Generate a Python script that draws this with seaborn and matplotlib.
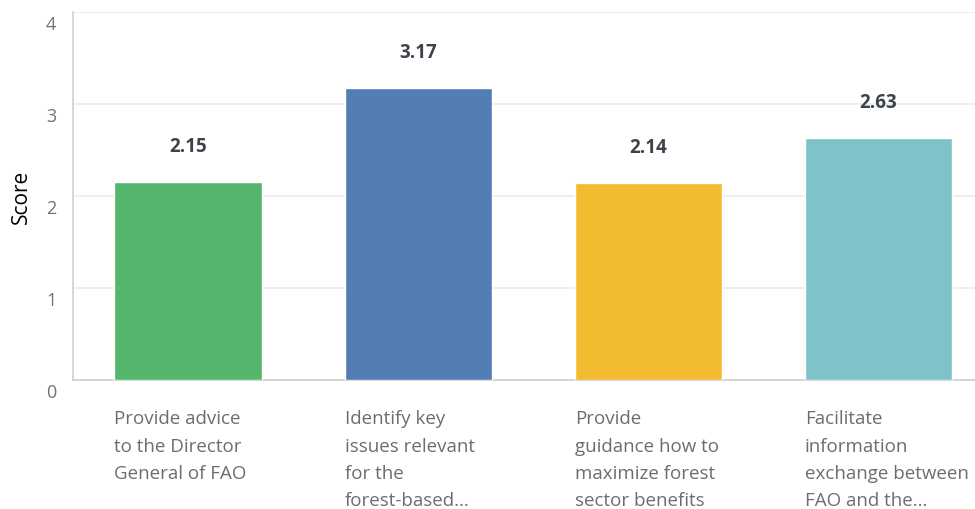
import matplotlib
matplotlib.use("Agg")
import matplotlib.pyplot as plt
import matplotlib.transforms as mtransforms
import seaborn as sns
import pandas as pd

categories = [
    "Provide advice\nto the Director\nGeneral of FAO",
    "Identify key\nissues relevant\nfor the\nforest-based...",
    "Provide\nguidance how to\nmaximize forest\nsector benefits",
    "Facilitate\ninformation\nexchange between\nFAO and the...",
]
scores = [2.15, 3.17, 2.14, 2.63]
value_labels = ["2.15", "3.17", "2.14", "2.63"]
colors = ["#56b56c", "#527eb3", "#f2bb30", "#7ec3c9"]
yticks = [0, 1, 2, 3, 4]

df = pd.DataFrame({"item": categories, "score": scores})

sns.set_theme(style="white")
plt.rcParams["font.family"] = ["Open Sans", "DejaVu Sans"]

fig = plt.figure(figsize=(9.75, 5.1), dpi=100)
ax = fig.add_axes([0.0749, 0.2529, 0.9251, 0.7216])

bar_w = 0.64
sns.barplot(data=df, x="item", y="score", hue="item", palette=colors,
            legend=False, width=bar_w, ax=ax, saturation=1, zorder=3)

ax.set_ylim(0, 4)
ax.set_xlim(-0.5, 3.42)
ax.set_yticks(yticks)
ax.set_yticklabels([str(t) for t in yticks], color="#6f7378", fontsize=13)
ax.tick_params(axis="y", length=0, pad=12)
# tick numbers sit slightly below their grid lines
shift = mtransforms.ScaledTranslation(0, -10 / 100, fig.dpi_scale_trans)
for lbl in ax.get_yticklabels():
    lbl.set_transform(lbl.get_transform() + shift)
ax.yaxis.grid(True, color="#ebebeb", linewidth=1.2, zorder=0)
ax.set_axisbelow(True)

for side in ["top", "right"]:
    ax.spines[side].set_visible(False)
for side in ["left", "bottom"]:
    ax.spines[side].set_color("#d0d0d0")
    ax.spines[side].set_linewidth(1.2)

ax.set_xlabel("")
ax.set_ylabel("Score", fontsize=15, color="black", labelpad=10,
              family=["Open Sans", "DejaVu Sans"])
ax.set_xticks(range(len(categories)))
ax.set_xticklabels([])
ax.tick_params(axis="x", length=0)

# category labels, left-aligned with each bar's left edge
trans = mtransforms.blended_transform_factory(ax.transData, ax.transAxes)
for i, label in enumerate(categories):
    ax.text(i - bar_w / 2, -0.08, label, transform=trans, ha="left", va="top",
            fontsize=13.5, color="#6a6d72", linespacing=1.66)

# value labels above the bars
for i, (v, txt) in enumerate(zip(scores, value_labels)):
    ax.annotate(txt, (i, v), xytext=(0, 19), textcoords="offset points",
                ha="center", va="bottom", fontsize=13.5, fontweight="bold",
                color="#3d434c")

fig.savefig("out.png", dpi=100)
